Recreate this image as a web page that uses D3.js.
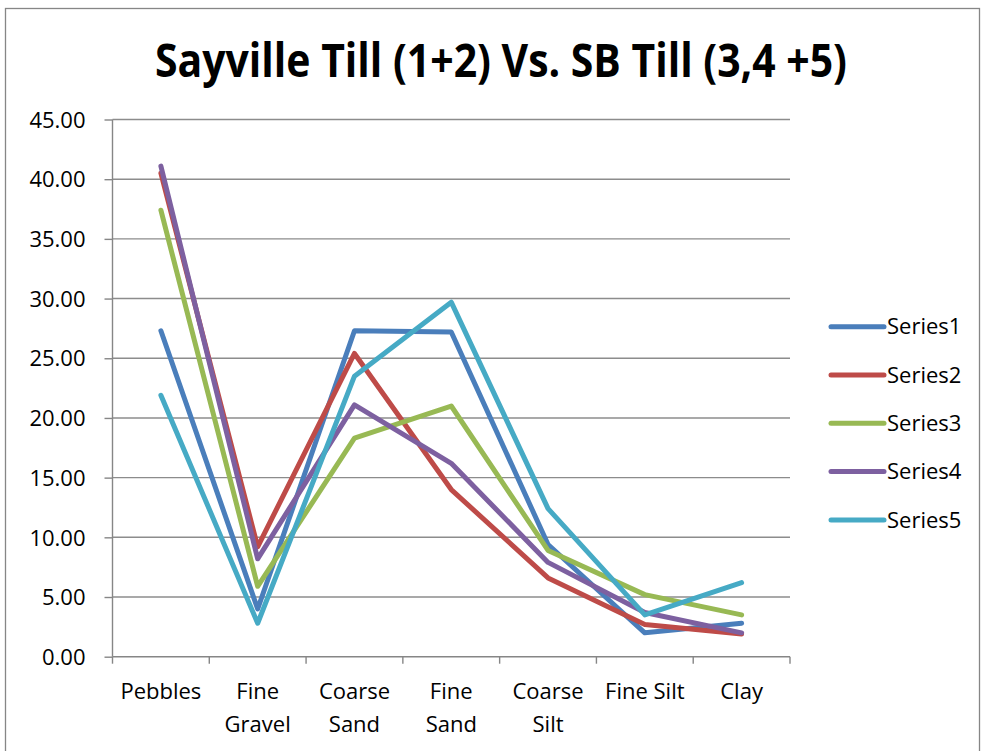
<!DOCTYPE html>
<html>
<head>
<meta charset="utf-8">
<script src="https://cdn.jsdelivr.net/npm/d3@7"></script>
<style>
  body { margin: 0; background: #fff; }
  svg { font-family: "Open Sans", sans-serif; }
</style>
</head>
<body>
<script>
// chart values
var categories = ["Pebbles", "Fine Gravel", "Coarse Sand", "Fine Sand", "Coarse Silt", "Fine Silt", "Clay"];
var seriesNames = ["Series1", "Series2", "Series3", "Series4", "Series5"];
var series1 = [27.3, 4.0, 27.3, 27.2, 9.4, 2.0, 2.8];
var series2 = [40.5, 9.2, 25.4, 14.0, 6.6, 2.7, 1.9];
var series3 = [37.4, 5.9, 18.3, 21.0, 8.9, 5.2, 3.5];
var series4 = [41.1, 8.2, 21.1, 16.2, 7.9, 3.7, 2.0];
var series5 = [21.9, 2.8, 23.5, 29.7, 12.4, 3.5, 6.2];
var yTicks = [0, 5, 10, 15, 20, 25, 30, 35, 40, 45];
var colors = ["#4a7ebb", "#be4b48", "#98b954", "#7d60a0", "#46aac5"];

var allSeries = [series1, series2, series3, series4, series5];

var width = 982, height = 751;
var mLeft = 112.5, mRight = 790, mTop = 119.5, mBottom = 656.7;

var svg = d3.select("body").append("svg")
  .attr("width", width)
  .attr("height", height);

// outer chart border
svg.append("rect")
  .attr("x", 5.5).attr("y", 8.5)
  .attr("width", 974).attr("height", 770)
  .attr("fill", "none")
  .attr("stroke", "#868686")
  .attr("stroke-width", 1.3);

svg.append("text")
  .attr("x", 501).attr("y", 77)
  .attr("text-anchor", "middle")
  .attr("font-size", 47)
  .attr("font-weight", "bold")
  .attr("textLength", 692)
  .attr("lengthAdjust", "spacingAndGlyphs")
  .text("Sayville Till (1+2) Vs. SB Till (3,4 +5)");

var x = d3.scaleBand().domain(categories).range([mLeft, mRight]);
var y = d3.scaleLinear().domain([0, 45]).range([mBottom, mTop]);

// gridlines
svg.append("g")
  .selectAll("line")
  .data(yTicks.slice(1))
  .enter().append("line")
  .attr("x1", mLeft).attr("x2", mRight)
  .attr("y1", function(d) { return y(d); })
  .attr("y2", function(d) { return y(d); })
  .attr("stroke", "#8c8c8c")
  .attr("stroke-width", 1.4);

var yAxis = d3.axisLeft(y).tickValues(yTicks).tickSize(8).tickPadding(19)
  .tickFormat(d3.format(".2f"));
var gy = svg.append("g").attr("transform", "translate(" + mLeft + ",0)").call(yAxis);
gy.selectAll("path,line").attr("stroke", "#868686").attr("stroke-width", 1.4);
gy.select(".domain").attr("d", "M0," + mBottom + "V" + mTop);
gy.selectAll("text").attr("font-size", 22).attr("fill", "#000")
  .attr("font-family", "'Open Sans', sans-serif").attr("dy", "0.35em");

var xAxis = d3.axisBottom(x).tickSize(0).tickFormat("");
var gx = svg.append("g").attr("transform", "translate(0," + mBottom + ")").call(xAxis);
gx.select(".domain").attr("d", "M" + mLeft + ",0H" + mRight).attr("stroke", "#868686").attr("stroke-width", 1.4);

// tick marks at band edges
var edges = categories.map(function(c) { return x(c); }).concat([mRight]);
gx.selectAll(".edge")
  .data(edges)
  .enter().append("line")
  .attr("class", "edge")
  .attr("x1", function(d) { return d; }).attr("x2", function(d) { return d; })
  .attr("y1", 0).attr("y2", 7)
  .attr("stroke", "#868686").attr("stroke-width", 1.4);

// category labels, wrapped on two lines
var labels = svg.append("g").selectAll("text")
  .data(categories)
  .enter().append("text")
  .attr("text-anchor", "middle")
  .attr("font-size", 22)
  .attr("fill", "#000")
  .attr("x", function(d) { return x(d) + x.bandwidth() / 2; })
  .attr("y", 699);

labels.each(function(d) {
  var words = (d == "Fine Silt") ? [d] : d.split(" ");
  var t = d3.select(this);
  words.forEach(function(w, i) {
    t.append("tspan")
      .attr("x", x(d) + x.bandwidth() / 2)
      .attr("dy", i == 0 ? 0 : 33)
      .text(w);
  });
});

var line = d3.line()
  .x(function(d, i) { return x(categories[i]) + x.bandwidth() / 2; })
  .y(function(d) { return y(d); });

svg.append("g")
  .selectAll("path")
  .data(allSeries)
  .enter().append("path")
  .attr("d", line)
  .attr("fill", "none")
  .attr("stroke", function(d, i) { return colors[i]; })
  .attr("stroke-width", 5)
  .attr("stroke-linejoin", "round")
  .attr("stroke-linecap", "round");

// legend
var legend = svg.append("g").selectAll("g")
  .data(seriesNames)
  .enter().append("g")
  .attr("transform", function(d, i) { return "translate(830," + (326.7 + i * 48.3) + ")"; });

legend.append("line")
  .attr("x1", 1).attr("x2", 54)
  .attr("stroke", function(d, i) { return colors[i]; })
  .attr("stroke-width", 5)
  .attr("stroke-linecap", "round");

legend.append("text")
  .attr("x", 57).attr("dy", "0.35em")
  .attr("font-size", 22)
  .attr("fill", "#000")
  .text(function(d) { return d; });
</script>
</body>
</html>
